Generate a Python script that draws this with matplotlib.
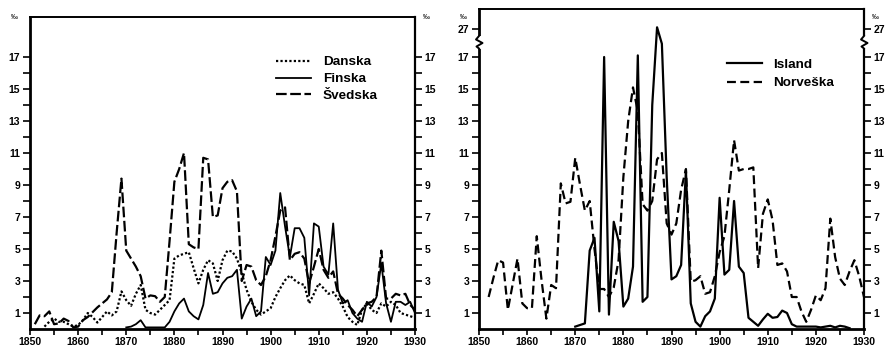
import numpy as np
import matplotlib
matplotlib.use('Agg')
import matplotlib.pyplot as plt

plt.rcParams['font.family'] = ['Liberation Sans', 'DejaVu Sans']

# ---- data (promille) ----
danska_years = np.arange(1853, 1931)
danska = [0.15, 0.45, 0.65, 0.45, 0.45, 0.3, 0.15, 0.25, 0.55, 1.0,
          0.75, 0.4, 0.75, 1.1, 0.85, 1.1, 2.35, 1.8, 1.45, 2.2,
          2.75, 1.2, 1.0, 0.9, 1.2, 1.5, 1.8, 4.4, 4.6, 4.7,
          4.8, 3.8, 2.85, 3.7, 4.3, 4.1, 3.0, 4.3, 4.9, 4.85,
          4.4, 3.5, 2.45, 1.7, 1.2, 0.9, 1.1, 1.3, 2.0, 2.55,
          3.05, 3.35, 3.05, 2.85, 2.75, 1.6, 2.2, 2.85, 2.55, 2.2,
          2.3, 1.9, 1.4, 0.75, 0.45, 0.25, 1.2, 1.6, 1.2, 1.0,
          1.6, 1.4, 1.7, 1.5, 1.0, 0.9, 0.8, 0.7]

finska_years = np.arange(1870, 1931)
finska = [0.1, 0.15, 0.3, 0.55, 0.1, 0.1, 0.1, 0.1, 0.1, 0.45,
          1.1, 1.6, 1.9, 1.1, 0.8, 0.6, 1.5, 3.5, 2.2, 2.3,
          2.85, 3.2, 3.3, 3.7, 0.65, 1.4, 1.9, 0.8, 1.1, 4.5,
          4.0, 4.9, 8.5, 6.4, 4.5, 6.3, 6.3, 5.7, 2.1, 6.6,
          6.4, 3.9, 3.4, 6.6, 2.45, 1.6, 1.8, 1.0, 0.65, 0.45,
          1.7, 1.4, 2.0, 4.1, 1.6, 0.45, 1.7, 1.7, 1.5, 1.7,
          1.0]

svedska_years = np.arange(1851, 1931)
svedska = [0.3, 0.85, 0.8, 1.1, 0.3, 0.35, 0.65, 0.5, 0.1, 0.15,
           0.55, 0.75, 1.05, 1.35, 1.6, 1.85, 2.3, 6.0, 9.4, 4.9,
           4.4, 3.9, 3.3, 1.9, 2.1, 2.05, 1.7, 2.0, 5.5, 9.2,
           10.0, 11.0, 5.3, 5.1, 5.0, 10.7, 10.6, 7.0, 7.1, 8.8,
           9.2, 9.3, 8.6, 3.0, 4.0, 3.9, 3.05, 2.75, 3.3, 4.3,
           5.8, 7.4, 7.6, 4.3, 4.7, 4.8, 4.4, 2.85, 3.9, 5.0,
           3.7, 3.2, 3.6, 2.2, 1.9, 1.5, 1.2, 0.8, 1.2, 1.6,
           1.7, 2.0, 4.9, 1.9, 1.9, 2.2, 2.1, 2.2, 1.5, 1.2]

island_years = np.arange(1870, 1928)
island = [0.15, 0.25, 0.35, 4.9, 5.7, 1.1, 17.0, 0.9, 6.7, 5.5,
          1.4, 1.9, 3.9, 17.1, 1.7, 2.0, 14.0, 27.8, 20.0, 9.5,
          3.1, 3.3, 4.0, 9.9, 1.6, 0.45, 0.15, 0.8, 1.1, 1.9,
          8.2, 3.4, 3.7, 8.0, 3.9, 3.5, 0.7, 0.45, 0.2, 0.6,
          0.95, 0.7, 0.75, 1.15, 1.0, 0.3, 0.15, 0.15, 0.15, 0.15,
          0.15, 0.1, 0.15, 0.2, 0.1, 0.2, 0.15, 0.05]

norveska_years = np.arange(1852, 1931)
norveska = [2.0, 3.2, 4.3, 4.15, 1.2, 2.8, 4.4, 1.6, 1.3, 1.3,
            5.8, 3.05, 0.65, 2.75, 2.55, 9.1, 7.85, 7.95, 10.7, 9.0,
            7.4, 8.0, 5.0, 2.5, 2.5, 2.0, 2.6, 4.3, 9.5, 13.0,
            15.1, 13.6, 7.8, 7.4, 8.0, 10.6, 11.0, 6.6, 5.9, 6.6,
            8.7, 10.0, 2.95, 3.05, 3.3, 2.2, 2.3, 3.3, 4.8, 5.8,
            8.7, 11.8, 9.9, 10.0, 10.0, 10.1, 3.8, 7.2, 8.1, 6.8,
            4.0, 4.1, 3.6, 2.0, 2.0, 1.1, 0.45, 1.2, 2.1, 1.8,
            2.55, 6.9, 4.5, 3.15, 2.75, 3.6, 4.3, 3.3, 2.0]

year_ticks = list(range(1850, 1931, 10))
y_ticks = [1, 3, 5, 7, 9, 11, 13, 15, 17]


# broken axis above 17.5 on the right panel
def fwd(v):
    v = np.asarray(v, dtype=float)
    return np.where(v <= 17.5, v, 17.5 + (v - 17.5) * 1.25 / 9.5)


def inv(p):
    p = np.asarray(p, dtype=float)
    return np.where(p <= 17.5, p, 17.5 + (p - 17.5) * 9.5 / 1.25)


W, H = 889, 349
fig = plt.figure(figsize=(W / 100, H / 100), dpi=100)
ax1 = fig.add_axes([30 / W, 20 / H, 385 / W, 312 / H])
ax2 = fig.add_axes([479 / W, 20 / H, 385 / W, 320 / H])

dash = (0, (4.8, 1.6))
dot = (0, (1, 1))

ax1.plot(danska_years, danska, color='black', lw=1.6, linestyle=dot, label='Danska')
ax1.plot(finska_years, finska, color='black', lw=1.3, label='Finska')
ax1.plot(svedska_years, svedska, color='black', lw=1.6, linestyle=dash, label='Švedska')

ax2.set_yscale('function', functions=(fwd, inv))
ax2.plot(island_years, island, color='black', lw=1.6, label='Island')
ax2.plot(norveska_years, norveska, color='black', lw=1.6, linestyle=(0, (4, 2)), label='Norveška')

for ax, top in ((ax1, 19.5), (ax2, float(inv(20)))):
    ax.set_xlim(1850, 1930)
    ax.set_ylim(0, top)
    ax.set_xticks(year_ticks)
    ax.set_xticks(range(1855, 1930, 10), minor=True)
    ax.set_yticks(y_ticks + ([27] if ax is ax2 else []))
    ax.set_yticks(range(2, 17, 2), minor=True)
    ax.tick_params(axis='x', which='both', direction='out', length=4, width=1.2,
                   labelsize=7.5, pad=2)
    ax.tick_params(axis='y', which='both', direction='out', length=5, width=1.2,
                   left=True, right=True, labelleft=True, labelright=True,
                   labelsize=7.5, pad=2)
    for lab in ax.get_xticklabels() + ax.get_yticklabels():
        lab.set_fontweight('bold')
    ax.spines['left'].set_linewidth(2.0)
    ax.spines['bottom'].set_linewidth(2.0)
    ax.spines['right'].set_linewidth(1.6)
    ax.spines['top'].set_linewidth(1.4)

# per-mille signs above both tick columns
for ax, dy in ((ax1, -4 / 312), (ax2, -12 / 320)):
    for xa in (-0.04, 1.03):
        ax.text(xa, 1.0 + dy, '‰', transform=ax.transAxes, ha='center', va='bottom', fontsize=5)

# break marks on both spines of the right panel
yb = (329 - 42) / 320
zx = np.array([0, -3, 3.5, -2.5, 0]) / 385
zy = yb - np.array([-6, -2.5, 1, 4.5, 6.5]) / 320
for x0 in (0, 1):
    ax2.plot([x0, x0], [yb + 6 / 320, yb - 6.5 / 320], transform=ax2.transAxes,
             color='white', lw=3, clip_on=False, zorder=5, solid_capstyle='butt')
    ax2.plot(x0 + zx, zy, transform=ax2.transAxes, color='black', lw=1.4,
             clip_on=False, zorder=6)

leg_font = {'weight': 'bold', 'size': 9.7}
ax1.legend(loc='upper left', bbox_to_anchor=(0.64, 0.875), frameon=False, prop=leg_font,
           borderaxespad=0, borderpad=0, handlelength=2.6, handletextpad=0.85, labelspacing=0.33)
ax2.legend(loc='upper left', bbox_to_anchor=(0.644, 0.845), frameon=False, prop=leg_font,
           borderaxespad=0, borderpad=0, handlelength=2.6, handletextpad=0.85, labelspacing=0.44)

fig.savefig('out.png', dpi=100)
